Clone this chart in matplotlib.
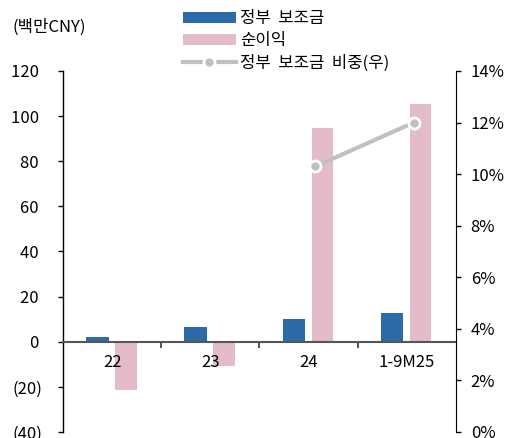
import matplotlib.pyplot as plt
from matplotlib.ticker import FuncFormatter
import numpy as np

plt.rcParams['font.family'] = ['Noto Sans CJK KR', 'DejaVu Sans']
plt.rcParams['font.size'] = 12

# data (millions CNY, share in %)
categories = ['22', '23', '24', '1-9M25']
subsidy = [2.3, 6.6, 10.2, 12.8]
net_income = [-21.4, -10.9, 94.8, 105.4]
subsidy_share = [None, None, 10.3, 12.0]

blue = '#2C6AA8'
pink = '#E4BBC9'
grey = '#C0C0C0'

fig = plt.figure(figsize=(5.31, 4.38), dpi=100)
ax = fig.add_axes([0.1186, 0.0137, 0.74, 0.8242])
x = np.arange(len(categories))

ax.bar(x - 0.15, subsidy, width=0.23, color=blue, label='정부  보조금', zorder=1)
ax.bar(x + 0.14, net_income, width=0.22, color=pink, label='순이익', zorder=1)

ax.set_xlim(-0.5, 3.5)
ax.set_ylim(-40, 120)
ax.set_yticks(range(-40, 121, 20))
# accounting style: negatives in brackets, positives padded to line up
ax.yaxis.set_major_formatter(FuncFormatter(lambda v, p: f'({abs(int(v))})' if v < 0 else f'{int(v)} '))

ax.spines['top'].set_visible(False)
ax.spines['right'].set_visible(False)
ax.spines['bottom'].set_position(('data', 0))
ax.spines['bottom'].set_color('#555555')
ax.spines['bottom'].set_linewidth(1.5)
ax.spines['bottom'].set_zorder(3)
ax.spines['left'].set_linewidth(1.0)
ax.set_xticks(x)
ax.set_xticklabels(categories)
ax.tick_params(axis='x', which='major', length=0, pad=9)
ax.set_xticks([0.5, 1.5, 2.5], minor=True)
ax.tick_params(axis='x', which='minor', length=4, width=1.2, color='#333333', direction='out')
ax.tick_params(axis='y', length=3.6, width=1.0, direction='out', pad=11)

ax2 = ax.twinx()
ax2.set_ylim(0, 0.14)
ax2.set_yticks(np.arange(0, 0.141, 0.02))
ax2.yaxis.set_major_formatter(FuncFormatter(lambda v, p: f'{v*100:.0f}%'))
ax2.spines['top'].set_visible(False)
ax2.spines['left'].set_visible(False)
ax2.spines['bottom'].set_visible(False)
ax2.tick_params(axis='y', length=3.6, width=1.0, direction='out', pad=7)

xs = [i + 0.07 for i, v in enumerate(subsidy_share) if v is not None]
ys = [v / 100 for v in subsidy_share if v is not None]
ax2.plot(xs, ys, color=grey, linewidth=3, marker='o', markersize=8,
         markerfacecolor=grey, markeredgecolor='white', markeredgewidth=2,
         label='정부  보조금  비중(우)', zorder=4)

fig.text(0.024, 0.938, '(백만CNY)', fontsize=12, va='center', ha='left')

h1, l1 = ax.get_legend_handles_labels()
h2, l2 = ax2.get_legend_handles_labels()
fig.legend(h1 + h2, l1 + l2, loc='upper left', bbox_to_anchor=(0.322, 1.003),
           frameon=False, handlelength=3.2, handleheight=0.6, labelspacing=0.3,
           handletextpad=0.25, borderpad=0.2)

fig.savefig('out.png', dpi=100)
